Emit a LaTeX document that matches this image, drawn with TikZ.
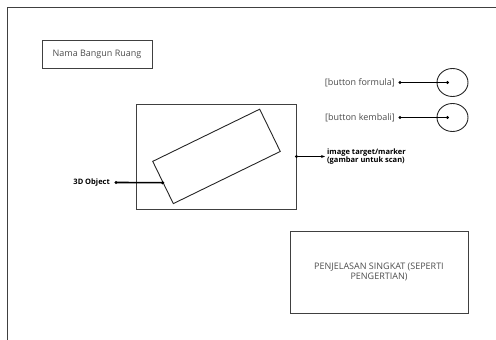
\documentclass[tikz,border=0pt]{standalone}
\usepackage{fontspec}
\setmainfont{Open Sans}
\usetikzlibrary{arrows.meta,shapes.geometric}

\begin{document}
\begin{tikzpicture}[x=1pt,y=-1pt,
  box/.style={draw=black!75,line width=0.9pt,inner sep=0pt},
  lbl/.style={text=black!70,font=\fontsize{9}{10.5}\selectfont},
  tag/.style={font=\bfseries\fontsize{7.5}{8.5}\selectfont,align=left},
  link/.style={draw=black,line width=1.6pt},
  btn/.style={draw=black!85,line width=0.9pt,ellipse,minimum width=31pt,minimum height=28pt,inner sep=0pt}]
  \useasboundingbox (0,0) rectangle (496,340);
  \draw[black!75,line width=0.9pt] (7,340)--(7,7)--(496,7);
  \node[box,lbl,minimum width=110pt,minimum height=28pt] (nama) at (97,54) {Nama Bangun Ruang};
  \node[lbl,anchor=east,inner xsep=5pt] (tformula) at (400,82.5) {[button formula]};
  \node[lbl,anchor=east,inner xsep=5pt] (tkembali) at (400,117.5) {[button kembali]};
  \node[btn] (formula) at (452.5,82.5) {};
  \node[btn] (kembali) at (452.5,117.5) {};
  \coordinate (pformula) at ([xshift=-5pt]formula.center);
  \coordinate (pkembali) at ([xshift=-5pt]kembali.center);
  \draw[link] (tformula.east) -- (pformula);
  \draw[link] (tkembali.east) -- (pkembali);
  \fill (tformula.east) circle (1.7pt) (pformula) circle (1.7pt);
  \fill (tkembali.east) circle (1.7pt) (pkembali) circle (1.7pt);
  \node[box,minimum width=160pt,minimum height=105pt] (layar) at (216,156.5) {};
  \node[box,draw=black!85,minimum width=119pt,minimum height=47pt,rotate=26] (objek) at (216.5,156.4) {};
  \node[tag,anchor=east,inner xsep=6pt] (t3d) at (116,182.5) {3D Object};
  \draw[link] (t3d.east) -- (objek.west);
  \fill (t3d.east) circle (1.7pt) (objek.west) circle (1.7pt);
  \node[tag,anchor=west,inner xsep=2pt] (marker) at (325,156.5) {image target/marker\\(gambar untuk scan)};
  \draw[link,-{Stealth[length=4pt]}] (layar.east) -- (marker.west);
  \fill (layar.east) circle (1.7pt);
  \node[box,lbl,minimum width=178pt,minimum height=82pt,align=center] (penjelasan) at (379,272) {PENJELASAN SINGKAT (SEPERTI\\PENGERTIAN)};
\end{tikzpicture}
\end{document}
